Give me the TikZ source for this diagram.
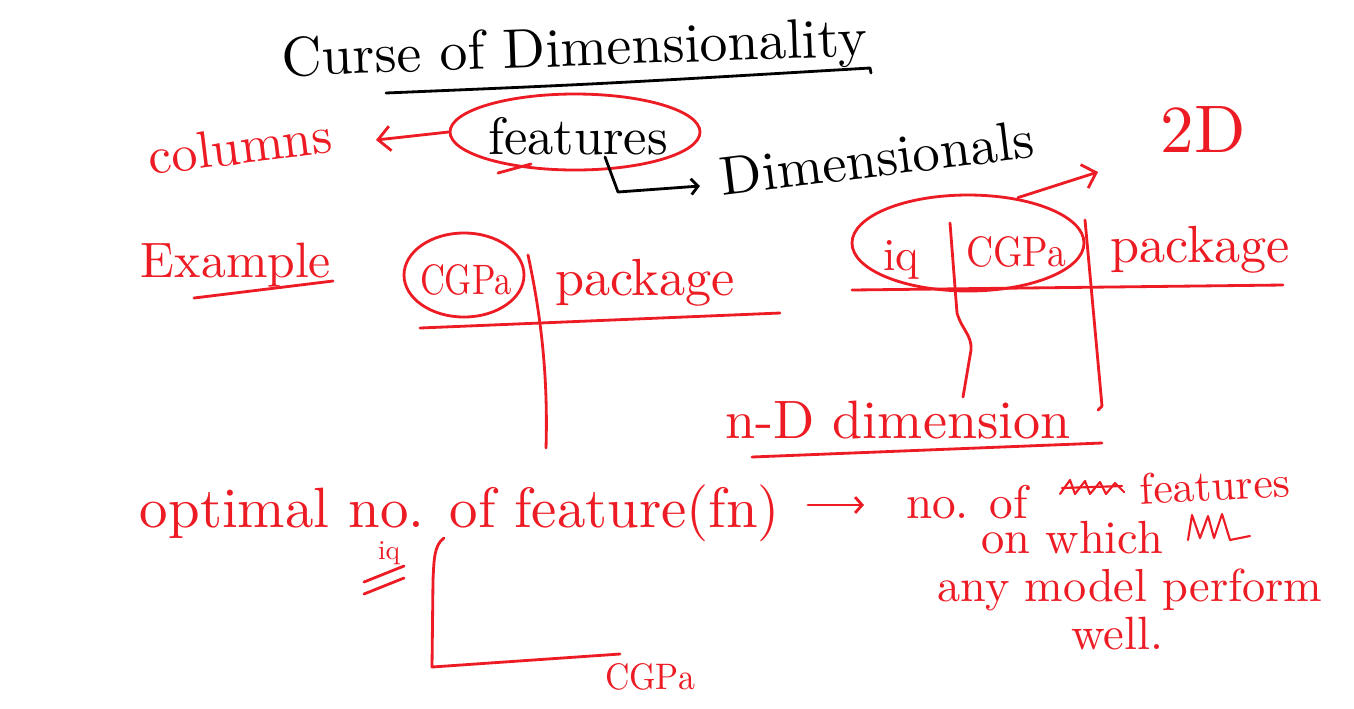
\documentclass[tikz,border=0pt]{standalone}
\usepackage{graphicx}
\usetikzlibrary{arrows.meta,shapes.geometric}
\definecolor{pen}{RGB}{237,28,36}
\newlength\pxu \setlength\pxu{0.02cm}
\newcommand{\fw}[2]{\resizebox{#1\pxu}{!}{#2}}
\begin{document}
\begin{tikzpicture}[x=0.02cm,y=-0.02cm,
  ink/.style={line width=1.6pt,line cap=round,line join=round},
  redink/.style={ink,draw=pen},
  blackink/.style={ink,draw=black},
  lbl/.style={inner sep=0pt,text=pen},
  blbl/.style={inner sep=0pt,text=black},
  loop/.style={draw=pen,line width=1.6pt,ellipse,inner sep=0pt},
  barb/.style={-{Straight Barb[length=7pt,width=14pt]}},
  smallbarb/.style={-{Straight Barb[length=4pt,width=9pt]}}]
\useasboundingbox[fill=white] (0,0) rectangle (1354,708);

% title
\node[blbl,anchor=base,rotate=2] (title) at (575,66) {\fw{585}{Curse of Dimensionality}};
\coordinate (tu1) at (386,93);
\coordinate (tu2) at (870,68);
\draw[blackink] (tu1) .. controls (600,84) .. (tu2) -- (871,73);

% features row
\node[lbl,rotate=7] (columns) at (240,146) {\fw{185}{columns}};
\node[loop,minimum width=250\pxu,minimum height=76\pxu] (featE) at (575,132) {};
\node[blbl] (features) at (578,136) {\fw{180}{features}};
\coordinate (colTip) at (376,140);
\draw[redink,barb] (featE.west) -- (colTip);
\draw[redink] (498,173) -- (531,164);
\node[blbl,rotate=7] (dims) at (877,158) {\fw{315}{Dimensionals}};
\coordinate (br1) at (605,157);
\coordinate (br2) at (618,192);
\coordinate (br3) at (700,186);
\draw[blackink,smallbarb] (br1) -- (br2) -- (br3);
\node[lbl] (twoD) at (1203,130) {\fw{85}{2D}};

% Example
\node[lbl] (example) at (236,265) {\fw{190}{Example}};
\coordinate (eu1) at (194,298);
\coordinate (eu2) at (333,281);
\draw[redink] (eu1) -- (eu2);

% left table
\node[loop,minimum width=120\pxu,minimum height=84\pxu] (cgpaE) at (464,275) {};
\node[lbl] (cgpaL) at (466,280) {\resizebox{92\pxu}{30\pxu}{CGPa}};
\node[lbl] (pkgL) at (645,283) {\fw{180}{package}};
\coordinate (lh1) at (420,328);
\coordinate (lh2) at (780,313);
\draw[redink] (lh1) -- (lh2);
\coordinate (lv1) at (528,255);
\coordinate (lv2) at (546,448);
\draw[redink] (lv1) .. controls (542,320) and (548,380) .. (lv2);

% right table
\node[loop,minimum width=232\pxu,minimum height=96\pxu] (rE) at (968,243) {};
\node[lbl] (iqR) at (901,260) {\resizebox{36\pxu}{30\pxu}{iq}};
\node[lbl] (cgpaR) at (1016,252) {\resizebox{100\pxu}{30\pxu}{CGPa}};
\node[lbl] (pkgR) at (1200,250) {\fw{180}{package}};
\coordinate (rh1) at (852,290);
\coordinate (rh2) at (1283,285);
\draw[redink] (rh1) -- (rh2);
\coordinate (rv1) at (950,223);
\coordinate (rv2) at (963,397);
\draw[redink] (rv1) -- (957,313) .. controls (962,330) and (972,335) .. (971,350) -- (rv2);
\coordinate (rw1) at (1085,220);
\coordinate (rw2) at (1102,406);
\draw[redink] (rw1) -- (rw2) -- (1098,410);
\coordinate (toTwoD) at (1098,172);
\draw[redink,barb] (rE.north) ++(50,4) coordinate (rEtop) -- (toTwoD);

% n-D dimension
\node[lbl] (nD) at (898,420) {\fw{345}{n-D dimension}};
\coordinate (nu1) at (752,457);
\coordinate (nu2) at (1102,443);
\draw[redink] (nu1) -- (nu2);

% optimal
\node[lbl] (optimal) at (460,513) {\fw{640}{optimal no. of feature(fn)}};
\coordinate (oa1) at (808,505);
\coordinate (oa2) at (864,505);
\draw[redink,smallbarb] (oa1) -- (oa2);
\node[lbl] (noof) at (967,502) {\fw{122}{no. of}};
\draw[redink,line width=1.2pt] (1060,494) -- (1070,480) -- (1075,494) -- (1085,481) -- (1090,494) -- (1100,482) -- (1106,494) -- (1115,483) -- (1124,492);
\draw[redink,line width=1.2pt] (1062,488) -- (1122,486);
\node[lbl,rotate=3] (featR) at (1215,485) {\fw{150}{features}};
\node[lbl] (onwhich) at (1072,538) {\fw{182}{on which}};
\draw[redink,line width=1.2pt] (1188,540) -- (1192,515) -- (1200,538) -- (1208,516) -- (1214,538) -- (1222,514) -- (1230,540) -- (1250,536);
\node[lbl] (anymodel) at (1130,590) {\fw{385}{any model perform}};
\node[lbl] (well) at (1117,634) {\fw{92}{well.}};

% iq annotation
\node[lbl] (iqB) at (389,553) {\fw{22}{iq}};
\coordinate (eq1) at (364,582);
\coordinate (eq2) at (404,566);
\coordinate (eq3) at (364,594);
\coordinate (eq4) at (404,578);
\draw[redink] (eq1) -- (eq2);
\draw[redink] (eq3) -- (eq4);

% bracket to CGPa
\node[lbl] (cgpaB) at (650,677) {\resizebox{90\pxu}{26\pxu}{CGPa}};
\coordinate (bb1) at (444,538);
\coordinate (bb2) at (432,667);
\coordinate (bb3) at (620,654);
\draw[redink] (bb1) .. controls (434,545) and (434,560) .. (433,580) -- (bb2) -- (bb3);
\end{tikzpicture}
\end{document}
